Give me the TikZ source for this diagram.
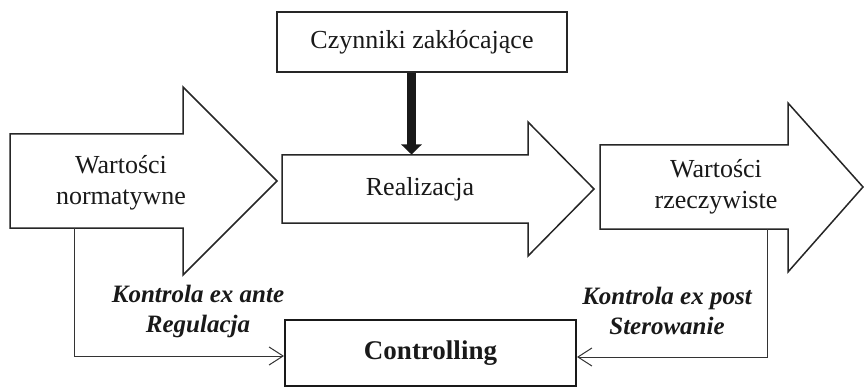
\documentclass[tikz,border=0pt]{standalone}
\usepackage{fontspec}
\setmainfont{Liberation Serif}
\usetikzlibrary{arrows.meta}
\begin{document}
\begin{tikzpicture}[x=1pt,y=-1pt,
  flow/.style={draw=black!85, line width=1.5pt, line join=miter, fill=white},
  plain/.style={font=\fontsize{26}{31}\selectfont, align=center, text=black!90},
  label/.style={font=\fontsize{25}{30}\selectfont\bfseries\itshape, align=center, text=black!90},
  box/.style={draw=black!85, line width=1.5pt, inner sep=0pt},
  link/.style={draw=black!80, line width=1pt, -{Straight Barb[length=14pt,width=18pt,line width=1pt]}}]
\useasboundingbox (0,0) rectangle (864,390);

% three block arrows of the process
\draw[flow] (10,134) -- (183,134) -- (183,87) -- (277,181) -- (183,275) -- (183,228) -- (10,228) -- cycle;
\draw[flow] (282,155) -- (528,155) -- (528,122) -- (594,189) -- (528,256) -- (528,223) -- (282,223) -- cycle;
\draw[flow] (600,145) -- (788,145) -- (788,103) -- (863,187) -- (788,272) -- (788,229) -- (600,229) -- cycle;

\node[plain] (norm) at (121,183) {Warto\'sci\\normatywne};
\node[plain] (real) at (420,189) {Realizacja};
\node[plain] (rzecz) at (716,187) {Warto\'sci\\rzeczywiste};

% anchor points on the arrow edges
\coordinate (normbot) at (74,228);
\coordinate (rzeczbot) at (767,229);
\coordinate (realtop) at (411.5,155);

% disturbance box and its thick arrow
\node[box, plain, minimum width=290pt, minimum height=60pt] (czyn) at (422,42) {Czynniki zak\l{}\'ocaj\k{a}ce};
\draw[line width=9pt, draw=black!90, -{Triangle[length=10pt,width=20pt]}, shorten >=0.5pt]
  (czyn.south -| realtop) -- (realtop);

% controlling box
\node[draw=black!90, line width=2pt, minimum width=291pt, minimum height=66pt,
      font=\fontsize{27}{32}\selectfont\bfseries, text=black!90] (ctrl) at (430.5,353) {Controlling};

% feedback connectors
\draw[link] (normbot) |- (ctrl.west |- 0,356);
\draw[link] (rzeczbot) |- (ctrl.east |- 0,357);

\node[label] (ante) at (198,311) {Kontrola ex ante\\Regulacja};
\node[label] (post) at (667,311) {Kontrola ex post\\Sterowanie};
\end{tikzpicture}
\end{document}
